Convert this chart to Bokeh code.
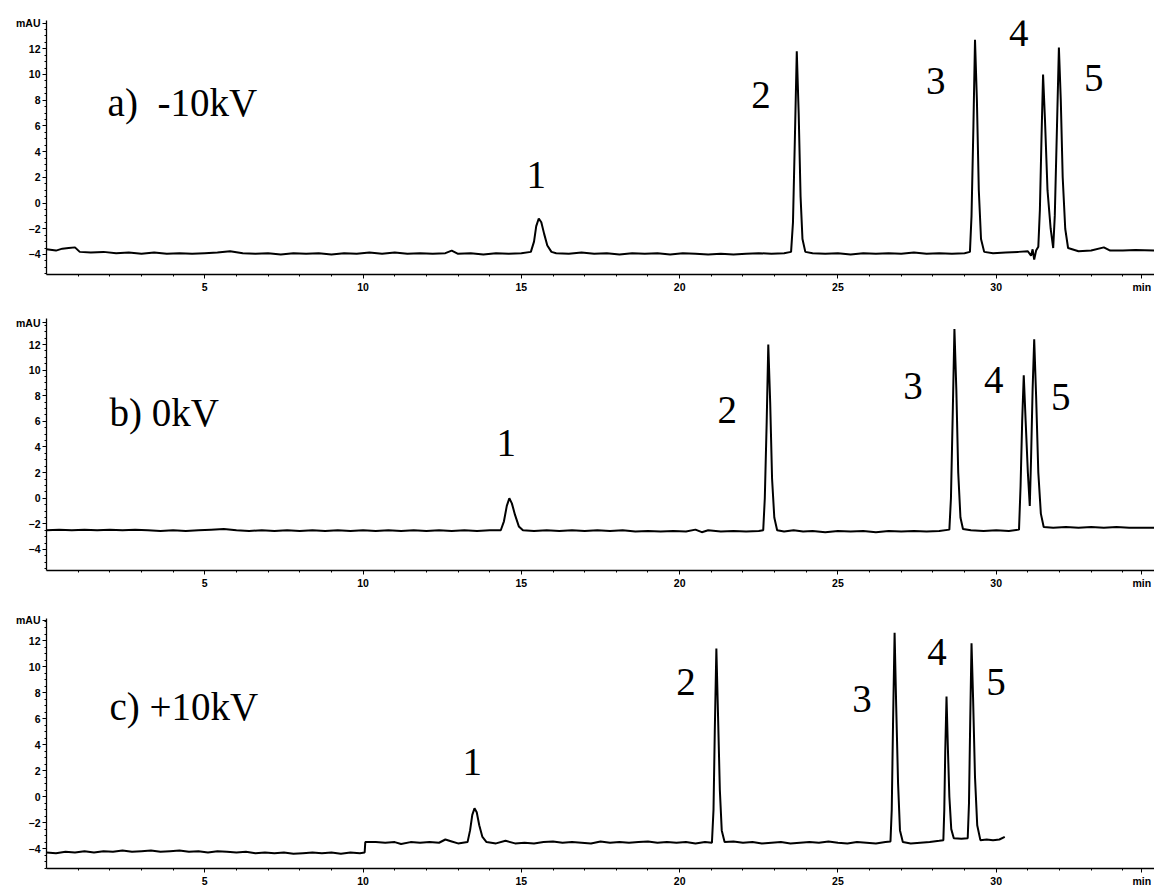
from bokeh.plotting import figure
from bokeh.layouts import column
from bokeh.models import FixedTicker, Range1d
from bokeh.core.properties import value
from bokeh.embed import file_html
from bokeh.resources import INLINE

# ---------------- data: (time in min, signal in mAU) ----------------
# a) -10 kV
a_points = [
    (0.0, -3.6), (0.3, -3.7), (0.5, -3.55), (0.7, -3.5), (0.9, -3.45), (1.05, -3.8), (1.4, -3.85),
    (1.8, -3.8), (2.2, -3.9), (2.6, -3.85), (3.0, -3.95), (3.4, -3.85), (3.8, -3.95), (4.2, -3.9),
    (4.6, -3.95), (5.0, -3.9), (5.4, -3.85), (5.8, -3.75), (6.2, -3.9), (6.6, -3.95), (7.0, -3.9),
    (7.4, -4.0), (7.8, -3.9), (8.2, -3.95), (8.6, -3.9), (9.0, -4.0), (9.4, -3.9), (9.8, -3.95),
    (10.2, -3.85), (10.6, -3.95), (11.0, -3.85), (11.4, -3.95), (11.8, -3.9), (12.2, -3.95),
    (12.6, -3.9), (12.8, -3.7), (13.0, -3.95), (13.4, -3.9), (13.8, -4.0), (14.2, -3.9), (14.6, -3.95),
    (15.0, -3.9), (15.3, -3.8), (15.4, -3.0), (15.47, -1.8), (15.55, -1.2), (15.63, -1.5), (15.72, -2.4),
    (15.82, -3.3), (15.95, -3.8), (16.1, -3.9), (16.5, -3.95), (16.9, -3.85), (17.3, -3.95), (17.7, -3.9),
    (18.1, -4.0), (18.5, -3.9), (18.9, -3.95), (19.3, -3.9), (19.7, -4.0), (20.1, -3.9), (20.5, -3.95),
    (20.9, -4.0), (21.3, -3.95), (21.7, -4.0), (22.1, -3.95), (22.5, -3.9), (22.9, -3.95), (23.3, -3.9),
    (23.52, -3.8), (23.58, -1.5), (23.64, 5.0), (23.7, 11.8), (23.76, 7.0), (23.82, 0.5), (23.88, -2.8),
    (23.97, -3.8), (24.2, -3.9), (24.6, -3.95), (25.0, -3.9), (25.4, -4.0), (25.8, -3.9), (26.2, -3.95),
    (26.6, -3.9), (27.0, -3.95), (27.4, -3.85), (27.8, -3.95), (28.2, -3.9), (28.6, -3.95), (29.0, -3.9),
    (29.17, -3.8), (29.22, -1.0), (29.28, 6.0), (29.33, 12.7), (29.39, 8.0), (29.45, 1.0), (29.52, -2.8),
    (29.62, -3.8), (29.9, -3.9), (30.3, -3.85), (30.7, -3.8), (31.0, -3.75), (31.1, -4.1), (31.15, -3.6),
    (31.2, -4.4), (31.26, -3.7), (31.33, -3.4), (31.38, -0.5), (31.43, 5.0), (31.48, 10.0), (31.54, 6.5),
    (31.62, 1.0), (31.72, -2.0), (31.8, -3.5), (31.85, -1.0), (31.92, 6.0), (31.98, 12.1), (32.04, 8.0),
    (32.1, 2.0), (32.18, -2.0), (32.27, -3.5), (32.6, -3.75), (33.0, -3.7), (33.4, -3.45), (33.6, -3.7),
    (34.0, -3.7), (34.4, -3.65), (35.0, -3.7),
]

# b) 0 kV
b_points = [
    (0.0, -2.5), (0.4, -2.45), (0.8, -2.5), (1.2, -2.45), (1.6, -2.5), (2.0, -2.45), (2.4, -2.5),
    (2.8, -2.45), (3.2, -2.5), (3.6, -2.55), (4.0, -2.5), (4.4, -2.55), (4.8, -2.5), (5.2, -2.45),
    (5.6, -2.4), (6.0, -2.5), (6.4, -2.55), (6.8, -2.5), (7.2, -2.55), (7.6, -2.5), (8.0, -2.55),
    (8.4, -2.5), (8.8, -2.55), (9.2, -2.5), (9.6, -2.55), (10.0, -2.5), (10.4, -2.55), (10.8, -2.5),
    (11.2, -2.55), (11.6, -2.5), (12.0, -2.55), (12.4, -2.5), (12.8, -2.55), (13.2, -2.5), (13.6, -2.55),
    (14.0, -2.5), (14.35, -2.5), (14.45, -1.8), (14.54, -0.6), (14.62, 0.0), (14.7, -0.4), (14.8, -1.3),
    (14.92, -2.2), (15.05, -2.5), (15.4, -2.55), (15.8, -2.5), (16.2, -2.55), (16.6, -2.5), (17.0, -2.55),
    (17.4, -2.5), (17.8, -2.55), (18.2, -2.5), (18.6, -2.6), (19.0, -2.55), (19.4, -2.6), (19.8, -2.55),
    (20.2, -2.6), (20.5, -2.45), (20.7, -2.65), (20.9, -2.5), (21.3, -2.6), (21.7, -2.55), (22.1, -2.6),
    (22.5, -2.55), (22.64, -2.5), (22.69, 0.0), (22.75, 6.0), (22.8, 12.0), (22.86, 7.5), (22.92, 1.5),
    (22.99, -1.5), (23.08, -2.5), (23.3, -2.6), (23.6, -2.5), (23.9, -2.6), (24.2, -2.55), (24.6, -2.65),
    (25.0, -2.55), (25.4, -2.6), (25.8, -2.55), (26.2, -2.65), (26.6, -2.55), (27.0, -2.6), (27.4, -2.55),
    (27.8, -2.6), (28.2, -2.55), (28.52, -2.45), (28.57, 0.0), (28.63, 7.0), (28.68, 13.2), (28.74, 8.5),
    (28.8, 2.0), (28.87, -1.5), (28.95, -2.4), (29.2, -2.5), (29.6, -2.55), (30.0, -2.5), (30.4, -2.55),
    (30.72, -2.45), (30.77, 1.0), (30.82, 6.0), (30.87, 9.6), (30.93, 6.0), (31.0, 2.0), (31.06, -0.6),
    (31.1, 3.0), (31.15, 8.5), (31.2, 12.4), (31.26, 8.0), (31.33, 2.0), (31.41, -1.2), (31.5, -2.25),
    (31.8, -2.3), (32.2, -2.25), (32.6, -2.3), (33.0, -2.25), (33.4, -2.3), (33.8, -2.25), (34.2, -2.3),
    (35.0, -2.3),
]

# c) +10 kV
c_points = [
    (0.0, -4.3), (0.3, -4.35), (0.6, -4.25), (0.9, -4.3), (1.2, -4.2), (1.5, -4.3), (1.8, -4.2),
    (2.1, -4.25), (2.4, -4.15), (2.7, -4.25), (3.0, -4.2), (3.3, -4.15), (3.6, -4.25), (3.9, -4.2),
    (4.2, -4.15), (4.5, -4.25), (4.8, -4.2), (5.1, -4.3), (5.4, -4.2), (5.7, -4.25), (6.0, -4.3),
    (6.3, -4.25), (6.6, -4.35), (6.9, -4.3), (7.2, -4.35), (7.5, -4.3), (7.8, -4.4), (8.1, -4.35),
    (8.4, -4.3), (8.7, -4.35), (9.0, -4.3), (9.3, -4.4), (9.6, -4.3), (9.9, -4.35), (10.05, -4.3),
    (10.07, -3.5), (10.4, -3.5), (10.7, -3.55), (11.0, -3.5), (11.2, -3.65), (11.5, -3.5), (11.8, -3.55),
    (12.1, -3.5), (12.4, -3.55), (12.6, -3.3), (12.8, -3.45), (13.0, -3.6), (13.3, -3.5), (13.38, -2.6),
    (13.45, -1.4), (13.52, -0.9), (13.59, -1.2), (13.67, -2.2), (13.77, -3.1), (13.9, -3.5), (14.2, -3.6),
    (14.5, -3.4), (14.8, -3.6), (15.1, -3.55), (15.4, -3.6), (15.7, -3.5), (16.0, -3.45), (16.3, -3.55),
    (16.6, -3.5), (16.9, -3.55), (17.2, -3.6), (17.5, -3.45), (17.8, -3.55), (18.1, -3.5), (18.4, -3.55),
    (18.7, -3.5), (19.0, -3.45), (19.3, -3.55), (19.6, -3.5), (19.9, -3.55), (20.2, -3.5), (20.5, -3.6),
    (20.8, -3.5), (21.02, -3.55), (21.07, -1.0), (21.11, 5.0), (21.16, 11.4), (21.21, 6.5), (21.27, 0.5),
    (21.33, -2.6), (21.42, -3.5), (21.7, -3.45), (22.0, -3.55), (22.3, -3.5), (22.6, -3.6), (22.9, -3.55),
    (23.2, -3.5), (23.5, -3.6), (23.8, -3.55), (24.1, -3.5), (24.4, -3.55), (24.7, -3.45), (25.0, -3.55),
    (25.3, -3.6), (25.6, -3.5), (25.9, -3.55), (26.2, -3.6), (26.5, -3.5), (26.66, -3.45), (26.7, -1.0),
    (26.74, 5.5), (26.79, 12.6), (26.84, 7.0), (26.9, 1.0), (26.96, -2.6), (27.05, -3.5), (27.3, -3.6),
    (27.6, -3.55), (27.9, -3.5), (28.2, -3.4), (28.33, -3.35), (28.36, -1.0), (28.39, 3.5), (28.43, 7.7),
    (28.47, 4.0), (28.52, 0.0), (28.58, -2.5), (28.66, -3.2), (28.9, -3.25), (29.1, -3.2), (29.14, -0.5),
    (29.18, 6.0), (29.22, 11.8), (29.27, 7.5), (29.33, 1.5), (29.4, -2.2), (29.5, -3.35), (29.7, -3.3),
    (29.9, -3.35), (30.1, -3.3), (30.27, -3.1),
]

a_time, a_mau = [list(v) for v in zip(*a_points)]
b_time, b_mau = [list(v) for v in zip(*b_points)]
c_time, c_mau = [list(v) for v in zip(*c_points)]

peak_names = ["1", "2", "3", "4", "5"]
NB = "\u00a0"
panel_titles = ["a)" + NB + NB + "-10kV", "b)" + NB + "0kV", "c)" + NB + "+10kV"]
y_tick_values = [-4, -2, 0, 2, 4, 6, 8, 10, 12]
x_tick_values = [5, 10, 15, 20, 25, 30]
x_unit_pos = 34.6

# label placement (data units, per panel)
a_lab_t = [15.47, 22.57, 28.09, 30.71, 33.08]
a_lab_y = [2.15, 8.4, 9.5, 13.2, 9.7]
b_lab_t = [14.52, 21.5, 27.37, 29.92, 32.04]
b_lab_y = [4.3, 6.9, 8.8, 9.2, 7.9]
c_lab_t = [13.45, 20.2, 25.76, 28.13, 29.99]
c_lab_y = [2.7, 8.85, 7.5, 11.1, 8.85]
title_pos = [(1.93, 7.8), (1.99, 6.7), (1.99, 6.9)]

SERIF = "Liberation Serif"
SANS = "Liberation Sans"


def make_panel(t, y, lab_t, lab_y, title, tpos, yr, unit_y, fh, top, bottom):
    p = figure(frame_width=1108, frame_height=fh,
               x_range=Range1d(0, 35), y_range=Range1d(*yr),
               output_backend="svg", toolbar_location=None,
               min_border_left=46, min_border_right=0,
               min_border_top=top, min_border_bottom=bottom)
    p.outline_line_color = None
    p.xgrid.visible = False
    p.ygrid.visible = False
    p.background_fill_color = "white"
    p.border_fill_color = "white"

    p.line(t, y, line_color="black", line_width=2)

    p.text(x=lab_t, y=lab_y, text=peak_names, text_font=value(SERIF),
           text_font_size="39px", text_align="center", text_baseline="middle",
           text_color="black")
    p.text(x=[tpos[0]], y=[tpos[1]], text=[title], text_font=value(SERIF),
           text_font_size="39px", text_align="left", text_baseline="middle",
           text_color="black")

    # axes
    xa = p.xaxis[0]
    xa.ticker = FixedTicker(ticks=x_tick_values + [x_unit_pos], minor_ticks=list(range(1, 35)))
    xa.major_label_overrides = {x_unit_pos: "min"}
    ya = p.yaxis[0]
    ya.ticker = FixedTicker(ticks=y_tick_values + [unit_y],
                            minor_ticks=[v / 2 for v in range(-11, 28)])
    ya.major_label_overrides = {unit_y: "mAU"}
    for ax in (xa, ya):
        ax.axis_line_color = "black"
        ax.axis_line_width = 1.3
        ax.major_tick_line_color = "black"
        ax.minor_tick_line_color = "black"
        ax.major_tick_in = 0
        ax.minor_tick_in = 0
        ax.major_tick_out = 4
        ax.minor_tick_out = 2
        ax.major_label_text_font = SANS
        ax.major_label_text_font_style = "bold"
        ax.major_label_text_font_size = "10.5px"
        ax.major_label_text_color = "black"
        ax.major_label_standoff = 2
    return p


pa = make_panel(a_time, a_mau, a_lab_t, a_lab_y, panel_titles[0], title_pos[0],
                (-5.56, 14.2), 14.0, 254, 20, 30)
pb = make_panel(b_time, b_mau, b_lab_t, b_lab_y, panel_titles[1], title_pos[1],
                (-5.64, 14.03), 13.7, 252, 14, 30)
pc = make_panel(c_time, c_mau, c_lab_t, c_lab_y, panel_titles[2], title_pos[2],
                (-5.53, 13.7), 13.55, 250, 18, 20)

layout = column(pa, pb, pc, spacing=0)
open("out.html", "w").write(file_html(layout, INLINE))
